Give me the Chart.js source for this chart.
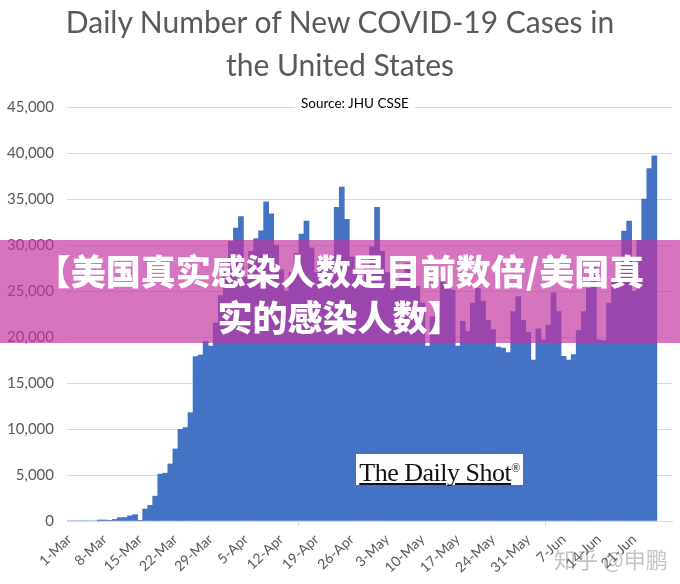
<!DOCTYPE html>
<html>
<head>
<meta charset="utf-8">
<script src="https://cdn.jsdelivr.net/npm/chart.js@4.4.1/dist/chart.umd.min.js"></script>
<style>
  body { margin: 0; background: #fff; }
  #wrap { position: relative; width: 680px; height: 584px; overflow: hidden; }
  #chart { position: absolute; left: 0; top: 0; }
  .title { position: absolute; left: 0; top: 0; width: 680px; text-align: center;
           font: 30px Lato, "Open Sans", sans-serif; line-height: 43px; color: #595959; }
  .source { position: absolute; left: 295px; top: 96px; padding: 0 6px; background: #fff;
            font: 13.5px Lato, "Open Sans", sans-serif; line-height: 14px; color: #000; }
  .banner { position: absolute; left: 0; top: 240px; width: 680px; height: 103px;
            background: rgba(196, 50, 160, 0.68); color: #fff; text-align: center;
            font: 900 35px "Noto Sans CJK SC", sans-serif; line-height: 46px; padding-top: 7px;
            box-sizing: border-box; }
  .logo { position: absolute; left: 356px; top: 454px; width: 167px; height: 31px; background: #fff;
          font: 26px "Liberation Serif", serif; line-height: 29px; color: #111; text-align: center;
          letter-spacing: -0.5px; }
  .logo span { text-decoration: underline; text-decoration-thickness: 2px; text-underline-offset: 2px; }
  .logo sup { font-size: 12px; vertical-align: 9px; }
  .mark { position: absolute; left: 554px; top: 542px; font: 22px "Noto Sans CJK SC", sans-serif;
          color: rgba(120, 120, 120, 0.45); }
</style>
</head>
<body>
<div id="wrap">
  <canvas id="chart" width="680" height="584"></canvas>
  <div class="title">Daily Number of New COVID-19 Cases in<br>the United States</div>
  <div class="source">Source: JHU CSSE</div>
  <div class="banner">【美国真实感染人数是目前数倍/美国真<br>实的感染人数】</div>
  <div class="logo"><span>The Daily Shot</span><sup>®</sup></div>
  <div class="mark">知乎 @申鹏</div>
</div>
<script>
// 1-Mar .. 25-Jun 2020, daily new cases
const cases = [
    0, 0, 0, 0, 0, 0, 110, 105, 30, 170,
    360, 380, 550, 690, 40, 1300, 1700, 2700, 5100, 5200,
    6200, 7830, 9960, 10150, 11770, 17860, 18040, 19500, 19000, 21500,
    24500, 27000, 30400, 31850, 33100, 26500, 29300, 30700, 31550, 34700,
    33400, 30000, 27300, 25000, 27000, 29100, 31200, 32600, 29700, 27000,
    28700, 28000, 28500, 34100, 36300, 32800, 28700, 27300, 26200, 27800,
    29800, 34100, 29300, 27000, 25100, 26000, 26700, 28000, 27300, 25500,
    23700, 19000, 22200, 23000, 26500, 25500, 25100, 19000, 21700, 20600,
    23700, 25300, 23900, 21800, 20800, 18900, 18800, 18300, 22750, 24400,
    21800, 20500, 17500, 20900, 19700, 21300, 24800, 22750, 17900, 17500,
    18100, 20700, 22750, 25300, 27800, 19700, 19600, 23700, 26000, 27500,
    31500, 32600, 25000, 30500, 35000, 38300, 39700
];

const tickLabels = ['1-Mar', '8-Mar', '15-Mar', '22-Mar', '29-Mar', '5-Apr', '12-Apr', '19-Apr',
    '26-Apr', '3-May', '10-May', '17-May', '24-May', '31-May', '7-Jun', '14-Jun', '21-Jun'];

const yTicks = [0, 5000, 10000, 15000, 20000, 25000, 30000, 35000, 40000, 45000];

// axis runs to 28-Jun, a few empty days after the last bar
const months = [['Mar', 31], ['Apr', 30], ['May', 31], ['Jun', 28]];
const days = [];
months.forEach(([m, n]) => {
    for (let d = 1; d <= n; d++) days.push(d + '-' + m);
});

const grey = '#595959';
const gridGrey = '#d9d9d9';

new Chart(document.getElementById('chart'), {
    type: 'bar',
    data: {
        labels: days,
        datasets: [{
            data: cases,
            backgroundColor: '#4472c4',
            borderWidth: 0,
            barPercentage: 1,
            categoryPercentage: 1
        }]
    },
    options: {
        responsive: false,
        animation: false,
        devicePixelRatio: 1,
        layout: { padding: { top: 107, right: 8, left: 0, bottom: 0 } },
        plugins: {
            legend: { display: false },
            tooltip: { enabled: false }
        },
        scales: {
            x: {
                afterFit: s => { s.height = 63; },
                border: { display: true, color: gridGrey },
                grid: {
                    drawOnChartArea: false,
                    tickLength: 5,
                    color: c => (c.index % 7 === 0 ? gridGrey : 'rgba(0,0,0,0)')
                },
                ticks: {
                    autoSkip: false,
                    minRotation: 43,
                    maxRotation: 43,
                    padding: 5,
                    color: grey,
                    font: { family: 'Lato, "Open Sans", sans-serif', size: 14 },
                    callback: (v, i) => (i % 7 === 0 ? tickLabels[i / 7] : null)
                }
            },
            y: {
                min: 0,
                max: 45000,
                afterFit: s => { s.width = 67; },
                afterBuildTicks: s => { s.ticks = yTicks.map(v => ({ value: v })); },
                border: { display: false },
                grid: { color: gridGrey, drawTicks: false },
                ticks: {
                    padding: 13,
                    color: grey,
                    font: { family: 'Lato, "Open Sans", sans-serif', size: 15 },
                    callback: v => v.toLocaleString('en-US')
                }
            }
        }
    }
});
</script>
</body>
</html>
